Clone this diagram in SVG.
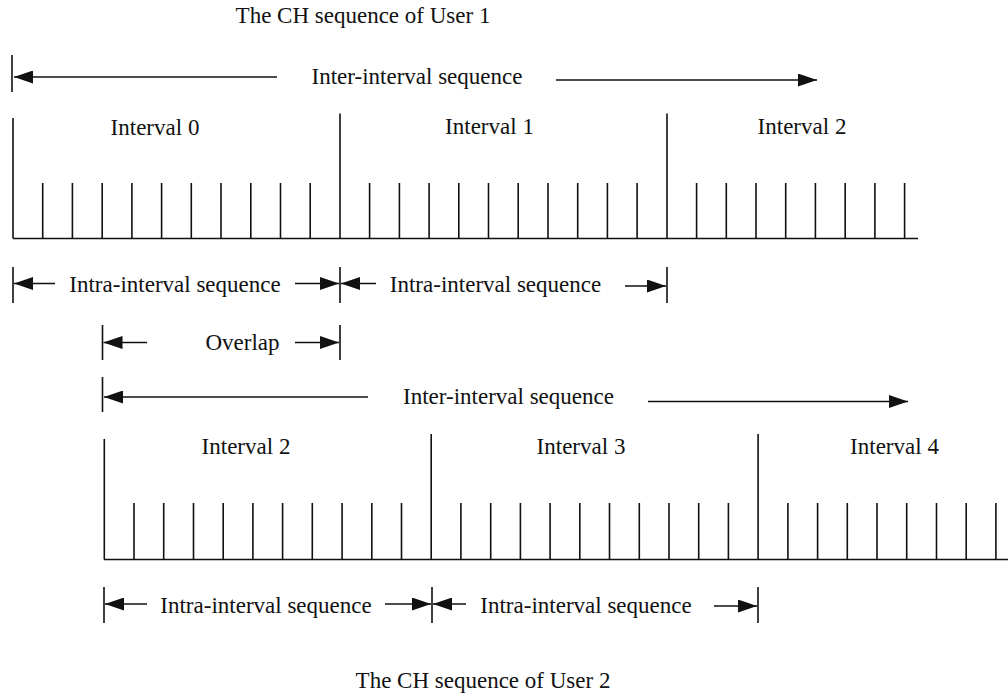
<svg xmlns="http://www.w3.org/2000/svg" width="1008" height="694" viewBox="0 0 1008 694">
<style>
.t{font-family:"Liberation Serif","Times New Roman",serif;font-size:23px;fill:#111;text-anchor:middle}
.ln{stroke:#111;stroke-width:1.6;fill:none}
.ar{stroke:#111;stroke-width:1.6;fill:none;marker-end:url(#ah)}
</style>
<defs>
<marker id="ah" markerUnits="userSpaceOnUse" markerWidth="19" markerHeight="13" refX="19" refY="6.5" orient="auto">
<path d="M0,0 L19,6.5 L0,13 z" fill="#111"/>
</marker>
</defs>
<rect width="1008" height="694" fill="#fff"/>

<g id="title1"><text class="t" x="363" y="22.5">The CH sequence of User 1</text></g>
<g id="title2"><text class="t" x="483" y="688">The CH sequence of User 2</text></g>

<g id="timeline1">
<path class="ln" d="M13,238.5 H918 M13,118 V238.5 M340,113.5 V238.5 M667,113.5 V238.5"/>
<path class="ln" d="M42.7,183 V238.5 M72.4,183 V238.5 M102.2,183 V238.5 M131.9,183 V238.5 M161.6,183 V238.5 M191.3,183 V238.5 M221,183 V238.5 M250.8,183 V238.5 M280.5,183 V238.5 M310.2,183 V238.5 M369.6,183 V238.5 M399.4,183 V238.5 M429.1,183 V238.5 M458.8,183 V238.5 M488.5,183 V238.5 M518.2,183 V238.5 M548,183 V238.5 M577.7,183 V238.5 M607.4,183 V238.5 M637.1,183 V238.5 M696.6,183 V238.5 M726.3,183 V238.5 M756,183 V238.5 M785.7,183 V238.5 M815.4,183 V238.5 M845.2,183 V238.5 M874.9,183 V238.5 M904.6,183 V238.5"/>
<text class="t" x="155" y="135">Interval 0</text>
<text class="t" x="489.5" y="134">Interval 1</text>
<text class="t" x="802" y="134">Interval 2</text>
</g>

<g id="timeline2">
<path class="ln" d="M104,559.5 H1008 M104.3,439 V559.5 M431.2,434 V559.5 M758.1,434 V559.5"/>
<path class="ln" d="M134,503 V559.5 M163.7,503 V559.5 M193.5,503 V559.5 M223.2,503 V559.5 M252.9,503 V559.5 M282.6,503 V559.5 M312.3,503 V559.5 M342.1,503 V559.5 M371.8,503 V559.5 M401.5,503 V559.5 M460.9,503 V559.5 M490.7,503 V559.5 M520.4,503 V559.5 M550.1,503 V559.5 M579.8,503 V559.5 M609.5,503 V559.5 M639.3,503 V559.5 M669,503 V559.5 M698.7,503 V559.5 M728.4,503 V559.5 M787.9,503 V559.5 M817.6,503 V559.5 M847.3,503 V559.5 M877,503 V559.5 M906.7,503 V559.5 M936.5,503 V559.5 M966.2,503 V559.5 M995.9,503 V559.5"/>
<text class="t" x="246" y="454">Interval 2</text>
<text class="t" x="581" y="454">Interval 3</text>
<text class="t" x="894.5" y="454">Interval 4</text>
</g>

<g id="label-inter1"><text class="t" x="417" y="84">Inter-interval sequence</text></g>
<g id="label-intra1a"><text class="t" x="175" y="292">Intra-interval sequence</text></g>
<g id="label-intra1b"><text class="t" x="495.5" y="292">Intra-interval sequence</text></g>
<g id="label-overlap"><text class="t" x="242.5" y="350">Overlap</text></g>
<g id="label-inter2"><text class="t" x="508.5" y="404">Inter-interval sequence</text></g>
<g id="label-intra2a"><text class="t" x="266" y="613">Intra-interval sequence</text></g>
<g id="label-intra2b"><text class="t" x="586" y="613">Intra-interval sequence</text></g>

<g id="connectors">
<!-- inter-interval 1 -->
<path class="ln" d="M12,55 V92"/>
<line class="ar" x1="277" y1="77" x2="14" y2="77"/>
<line class="ar" x1="556" y1="80" x2="817" y2="80"/>
<!-- intra row 1 -->
<path class="ln" d="M13,267 V303 M340,267 V303 M667,267 V303"/>
<line class="ar" x1="55" y1="283.5" x2="14" y2="283.5"/>
<line class="ar" x1="295" y1="283.5" x2="339" y2="283.5"/>
<line class="ar" x1="376" y1="283.5" x2="341" y2="283.5"/>
<line class="ar" x1="625" y1="286" x2="666" y2="286"/>
<!-- overlap -->
<path class="ln" d="M102.5,325 V360 M340,325 V360"/>
<line class="ar" x1="147" y1="342.5" x2="103.5" y2="342.5"/>
<line class="ar" x1="295" y1="342.5" x2="339" y2="342.5"/>
<!-- inter-interval 2 -->
<path class="ln" d="M102.5,377 V412"/>
<line class="ar" x1="368" y1="397" x2="104" y2="397"/>
<line class="ar" x1="648" y1="401.5" x2="908" y2="401.5"/>
<!-- intra row 2 -->
<path class="ln" d="M104,587 V623 M432,587 V623 M758,587 V623"/>
<line class="ar" x1="147" y1="604" x2="105" y2="604"/>
<line class="ar" x1="385" y1="604" x2="431" y2="604"/>
<line class="ar" x1="466" y1="604" x2="433" y2="604"/>
<line class="ar" x1="714" y1="606" x2="757" y2="606"/>
</g>
</svg>
